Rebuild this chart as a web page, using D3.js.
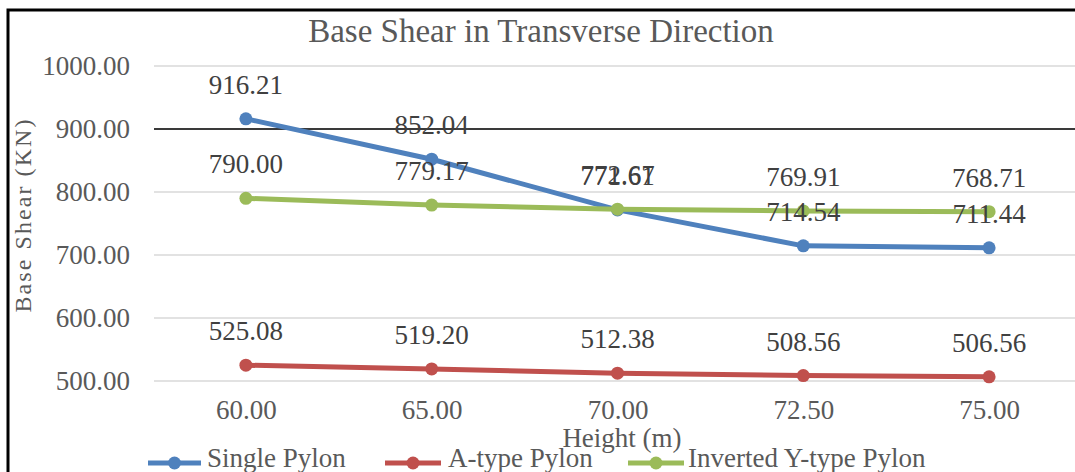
<!DOCTYPE html>
<html>
<head>
<meta charset="utf-8">
<script src="https://cdn.jsdelivr.net/npm/d3@7"></script>
<style>
  body { margin: 0; background: #fff; }
  svg { display: block; }
  text { font-family: "Liberation Serif", "Times New Roman", serif; }
</style>
</head>
<body>
<div id="chart"></div>
<script>
const categories = ["60.00", "65.00", "70.00", "72.50", "75.00"];
const singlePylon = [916.21, 852.04, 771.61, 714.54, 711.44];
const aTypePylon = [525.08, 519.20, 512.38, 508.56, 506.56];
const invertedYPylon = [790.00, 779.17, 772.67, 769.91, 768.71];
const yTicks = [500, 600, 700, 800, 900, 1000];

const series = [
    { name: 'Single Pylon', values: singlePylon, color: '#4f81bd' },
    { name: 'A-type Pylon', values: aTypePylon, color: '#c0504d' },
    { name: 'Inverted Y-type Pylon', values: invertedYPylon, color: '#9bbb59' }
];

const width = 1075, height = 472;
const svg = d3.select('#chart').append('svg')
    .attr('width', width)
    .attr('height', height);

const x = d3.scalePoint().domain(categories).range([153, 1082]).padding(0.5);
const y = d3.scaleLinear().domain([500, 1000]).range([381, 66]);

// frame (cropped: only top and left edges visible)
svg.append('path')
    .attr('d', `M8,${height} L8,10 L${width},10`)
    .attr('fill', 'none')
    .attr('stroke', '#000')
    .attr('stroke-width', 3);

// title
svg.append('text')
    .attr('x', 541).attr('y', 42)
    .attr('text-anchor', 'middle')
    .style('font-size', '33px')
    .style('fill', '#595959')
    .text('Base Shear in Transverse Direction');

// gridlines
svg.append('g').selectAll('line')
    .data(yTicks)
    .enter().append('line')
    .attr('x1', 154).attr('x2', width)
    .attr('y1', d => y(d)).attr('y2', d => y(d))
    .attr('stroke', d => d === 900 ? '#3a3a3a' : '#d9d9d9')
    .attr('stroke-width', d => d === 900 ? 2 : 1.5);

// y axis
const yAxis = d3.axisLeft(y).tickValues(yTicks).tickSize(0).tickPadding(0)
    .tickFormat(d => d3.format('.2f')(d));
const yg = svg.append('g').attr('transform', 'translate(130,0)').call(yAxis);
yg.select('.domain').remove();
yg.selectAll('text')
    .style('font-family', '"Liberation Serif", serif')
    .style('font-size', '27px')
    .style('fill', '#595959');

// x axis
const xAxis = d3.axisBottom(x).tickSize(0).tickPadding(0);
const xg = svg.append('g').attr('transform', 'translate(0,400)').call(xAxis);
xg.select('.domain').remove();
xg.selectAll('text')
    .style('font-family', '"Liberation Serif", serif')
    .style('font-size', '27px')
    .style('fill', '#595959');

// axis titles
svg.append('text')
    .attr('transform', 'translate(31,216) rotate(-90)')
    .attr('text-anchor', 'middle')
    .attr('textLength', 193)
    .attr('lengthAdjust', 'spacing')
    .style('font-size', '24px')
    .style('fill', '#595959')
    .text('Base Shear (KN)');

svg.append('text')
    .attr('x', 622).attr('y', 447)
    .attr('text-anchor', 'middle')
    .style('font-size', '27px')
    .style('fill', '#595959')
    .text('Height (m)');

// lines and markers
const line = d3.line()
    .x((d, i) => x(categories[i]))
    .y(d => y(d));

series.forEach(s => {
    const g = svg.append('g');
    g.append('path')
        .datum(s.values)
        .attr('d', line)
        .attr('fill', 'none')
        .attr('stroke', s.color)
        .attr('stroke-width', 5)
        .attr('stroke-linejoin', 'round');
    g.selectAll('circle')
        .data(s.values)
        .enter().append('circle')
        .attr('cx', (d, i) => x(categories[i]))
        .attr('cy', d => y(d))
        .attr('r', 6.5)
        .attr('fill', s.color);
});

// data labels
series.forEach(s => {
    svg.append('g').selectAll('text')
        .data(s.values)
        .enter().append('text')
        .attr('x', (d, i) => x(categories[i]))
        .attr('y', d => y(d) - 25)
        .attr('text-anchor', 'middle')
        .style('font-size', '27px')
        .style('fill', '#404040')
        .text(d => d3.format('.2f')(d));
});

// legend (bottom edge is cropped in the original)
const legendItems = [
    { x0: 148, x1: 201, tx: 207 },
    { x0: 385, x1: 441, tx: 448 },
    { x0: 628, x1: 684, tx: 688 }
];
const legend = svg.append('g');
series.forEach((s, i) => {
    const li = legendItems[i];
    const ly = 463;
    legend.append('line')
        .attr('x1', li.x0).attr('x2', li.x1)
        .attr('y1', ly).attr('y2', ly)
        .attr('stroke', s.color)
        .attr('stroke-width', 5);
    legend.append('circle')
        .attr('cx', (li.x0 + li.x1) / 2).attr('cy', ly)
        .attr('r', 6.5)
        .attr('fill', s.color);
    legend.append('text')
        .attr('x', li.tx).attr('y', 467)
        .style('font-size', '27px')
        .style('fill', '#595959')
        .text(s.name);
});
</script>
</body>
</html>
